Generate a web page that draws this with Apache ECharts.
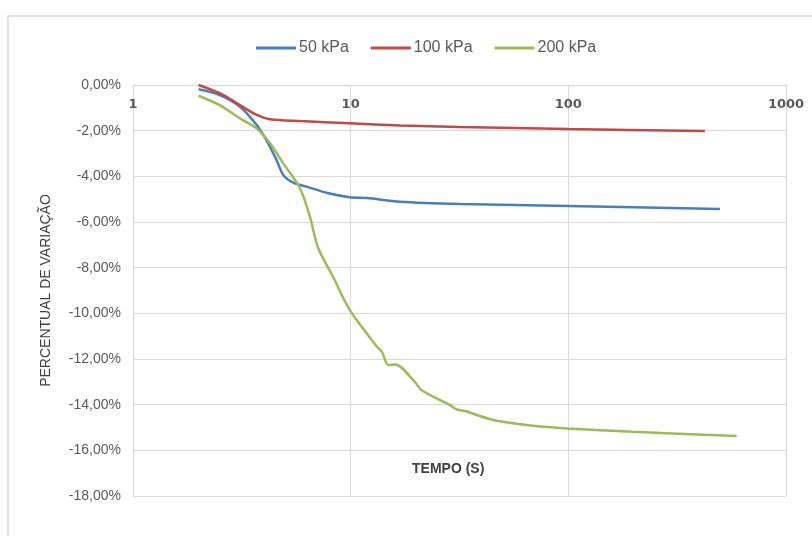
<!DOCTYPE html>
<html><head><meta charset="utf-8">
<script src="https://cdn.jsdelivr.net/npm/echarts@6/dist/echarts.min.js"></script>
<style>html,body{margin:0;padding:0;background:#fff}#c{width:812px;height:536px}</style>
</head><body><div id="c"></div>
<script>
const seriesNames = ['50 kPa', '100 kPa', '200 kPa'];
const t50  = [2.0, 2.5, 3.1, 3.7, 4.1, 4.57, 4.9, 5.45, 6.28, 7.75, 9.9, 11.85, 16.8, 31.8, 100, 497];
const v50  = [-0.19, -0.44, -0.95, -1.75, -2.41, -3.29, -3.94, -4.28, -4.45, -4.72, -4.92, -4.95, -5.11, -5.21, -5.30, -5.43];
const t100 = [2.0, 2.5, 3.1, 3.7, 4.26, 5.85, 9.9, 16.8, 31.8, 100, 424];
const v100 = [0.0, -0.36, -0.88, -1.31, -1.50, -1.58, -1.68, -1.77, -1.84, -1.93, -2.01];
const t200 = [2.0, 2.5, 3.1, 3.7, 4.26, 4.9, 5.85, 6.5, 7.1, 8.3, 9.9, 13.2, 13.9, 14.9, 16.0, 19.7, 21.1, 28.6, 30.7, 33.5, 45.3, 69, 99.3, 198, 593];
const v200 = [-0.47, -0.88, -1.46, -1.90, -2.55, -3.43, -4.52, -5.77, -7.15, -8.40, -9.85, -11.46, -11.68, -12.26, -12.24, -13.0, -13.36, -14.02, -14.21, -14.28, -14.67, -14.92, -15.04, -15.19, -15.37];
const colors = ['#4a7ebb', '#be4b48', '#9bbb59'];
const yTitle = 'PERCENTUAL DE VARIAÇÃO';
const xTitle = 'TEMPO (S)';

const font = '"Liberation Sans Narrow", "Liberation Sans", Arial, sans-serif';
const zip = (a, b) => a.map((x, i) => [x, b[i]]);
const data = [zip(t50, v50), zip(t100, v100), zip(t200, v200)];

const chart = echarts.init(document.getElementById('c'));
chart.setOption({
  animation: false,
  color: colors,
  legend: {
    top: 35, left: 251, itemWidth: 40, itemHeight: 3, itemGap: 22,
    icon: 'rect',
    textStyle: { fontFamily: font, fontSize: 16, color: '#595959', padding: [0, 0, 0, -2] },
    data: seriesNames
  },
  grid: { left: 133, right: 26, top: 85, bottom: 40 },
  graphic: [
    { type: 'rect', shape: { x: 8, y: 16, width: 830, height: 560 }, style: { fill: 'none', stroke: '#d9d9d9', lineWidth: 1.5 }, silent: true },
    { type: 'text', left: 412, top: 462, style: { text: xTitle, font: 'bold 14px ' + font, fill: '#404040' } }
  ],
  xAxis: {
    type: 'log', logBase: 10, min: 1, max: 1000, position: 'top',
    axisLine: { show: true, lineStyle: { color: '#d9d9d9' } },
    axisTick: { show: false },
    axisLabel: { inside: true, margin: 13, fontFamily: '"DejaVu Sans", sans-serif', fontWeight: 'bold', fontSize: 13, color: '#595959',
      formatter: v => String(Math.round(v)) },
    splitLine: { show: true, lineStyle: { color: '#d9d9d9' } },
    minorTick: { show: false }
  },
  yAxis: {
    type: 'value', min: -18, max: 0, interval: 2,
    name: yTitle, nameLocation: 'middle', nameGap: 80,
    nameTextStyle: { fontFamily: font, fontSize: 14, color: '#404040', fontWeight: 'normal' },
    axisLine: { show: false }, axisTick: { show: false },
    axisLabel: { margin: 12, fontFamily: font, fontSize: 14, color: '#595959',
      formatter: v => v.toFixed(2).replace('.', ',') + '%' },
    splitLine: { lineStyle: { color: '#d9d9d9' } }
  },
  series: seriesNames.map((n, i) => ({
    name: n, type: 'line', data: data[i], smooth: 0.3, showSymbol: false,
    lineStyle: { width: 2.5, color: colors[i] }
  }))
});
</script></body></html>
